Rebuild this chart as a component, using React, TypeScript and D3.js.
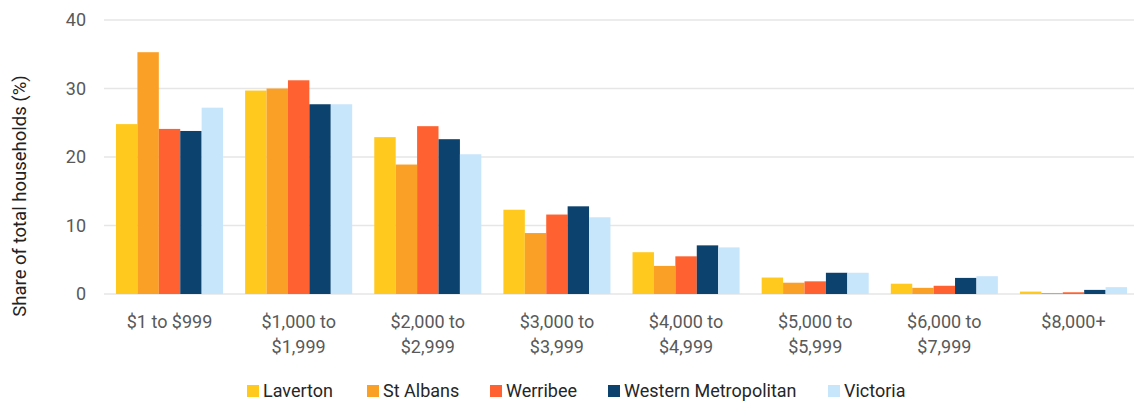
import React from "react";
import * as d3 from "d3";

const categories = [
  ["$1 to $999"],
  ["$1,000 to", "$1,999"],
  ["$2,000 to", "$2,999"],
  ["$3,000 to", "$3,999"],
  ["$4,000 to", "$4,999"],
  ["$5,000 to", "$5,999"],
  ["$6,000 to", "$7,999"],
  ["$8,000+"],
];
const seriesNames = ["Laverton", "St Albans", "Werribee", "Western Metropolitan", "Victoria"];
const seriesColors = ["#FFC91D", "#FBA026", "#FF6230", "#0C426E", "#C8E6FB"];
const laverton = [24.8, 29.7, 22.9, 12.3, 6.1, 2.4, 1.5, 0.35];
const stAlbans = [35.3, 30.0, 18.9, 8.9, 4.1, 1.65, 0.9, 0.15];
const werribee = [24.1, 31.2, 24.5, 11.6, 5.5, 1.85, 1.2, 0.25];
const westernMetro = [23.8, 27.7, 22.6, 12.8, 7.1, 3.1, 2.35, 0.6];
const victoria = [27.2, 27.7, 20.4, 11.2, 6.8, 3.1, 2.6, 1.0];
const yTicks = [0, 10, 20, 30, 40];

const seriesValues = [laverton, stAlbans, werribee, westernMetro, victoria];

export default function App() {
  const W = 1134, H = 403;
  const left = 104, gridRight = 1134, top = 20, bottom = 294;
  const font = "Roboto, 'Noto Sans', sans-serif";
  const x0 = d3.scaleBand<number>().domain(d3.range(categories.length)).range([left, 1139]).paddingInner(0.171).paddingOuter(0.093);
  const x1 = d3.scaleBand<number>().domain(d3.range(seriesNames.length)).range([0, x0.bandwidth()]);
  const y = d3.scaleLinear().domain([0, 40]).range([bottom, top]);

  const legendX = [247, 367, 490, 608, 828];

  return (
    <svg width={W} height={H} style={{ position: "absolute", left: 0, top: 0, background: "#fff" }} fontFamily={font}>
      {yTicks.map((t) => (
        <g key={t}>
          <line x1={left} x2={gridRight} y1={y(t)} y2={y(t)} stroke="#e6e6e6" strokeWidth={1.5} />
          <text x={86} y={y(t)} dy="0.35em" textAnchor="end" fontSize={18} fill="#595959">{t}</text>
        </g>
      ))}
      <text transform={`translate(26,196) rotate(-90)`} textAnchor="middle" fontSize={18.5} fill="#222">
        Share of total households (%)
      </text>
      {categories.map((c, i) => (
        <g key={i}>
          {seriesValues.map((vals, s) => (
            <rect key={s} x={(x0(i) as number) + (x1(s) as number)} y={y(vals[i])} width={x1.bandwidth()} height={bottom - y(vals[i])} fill={seriesColors[s]} />
          ))}
          {c.map((line, li) => (
            <text key={li} x={(x0(i) as number) + x0.bandwidth() / 2} y={322 + li * 25} dy="0.35em" textAnchor="middle" fontSize={18} fill="#595959">{line}</text>
          ))}
        </g>
      ))}
      {seriesNames.map((n, s) => (
        <g key={n} transform={`translate(${legendX[s]},391)`}>
          <rect x={0} y={-6} width={12} height={12} fill={seriesColors[s]} />
          <text x={16} y={0} dy="0.35em" fontSize={18} fill="#262626">{n}</text>
        </g>
      ))}
    </svg>
  );
}
